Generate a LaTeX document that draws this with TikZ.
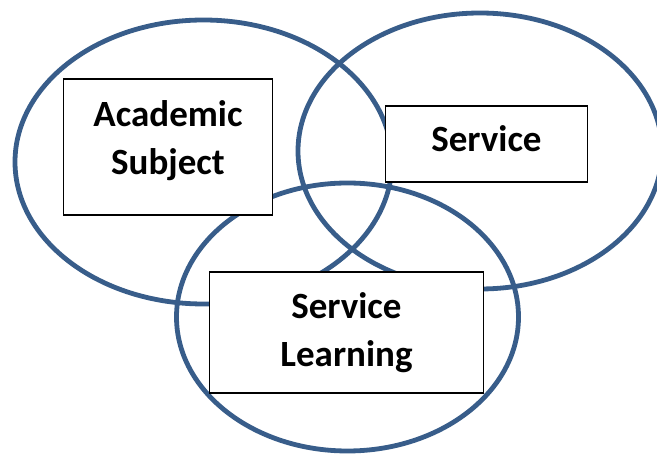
\documentclass[tikz,border=0pt]{standalone}
\usepackage{fontspec}
\setmainfont{Carlito}
\definecolor{ringblue}{RGB}{56,93,138}
\tikzset{
  ring/.style={draw=ringblue, line width=4.8pt},
  box/.style={draw=black, fill=white, line width=1.1pt, inner sep=0pt},
  lbl/.style={font=\fontsize{37}{48}\selectfont\bfseries, align=center, inner sep=0pt}
}
\begin{document}
\begin{tikzpicture}[x=1pt, y=-1pt]
      \useasboundingbox (0,0) rectangle (657,454);

      \draw[ring] (203.5,162) ellipse (188.5 and 142);
      \draw[ring] (480,151) ellipse (182 and 138);
      \draw[ring] (347.5,317) ellipse (171 and 134);

      \node[box, minimum width=209pt, minimum height=136pt] (acadbox) at (168,147) {};
      \node[box, minimum width=202pt, minimum height=76pt] (servbox) at (486.5,144) {};
      \node[box, minimum width=274pt, minimum height=121pt] (slbox) at (346.2,332.5) {};

      \node[lbl] (acad) at (168,140.7) {Academic\\Subject};
      \node[lbl] (serv) at (486.5,139) {Service};
      \node[lbl] (sl) at (346.5,332.5) {Service\\Learning};
    \end{tikzpicture}
\end{document}
